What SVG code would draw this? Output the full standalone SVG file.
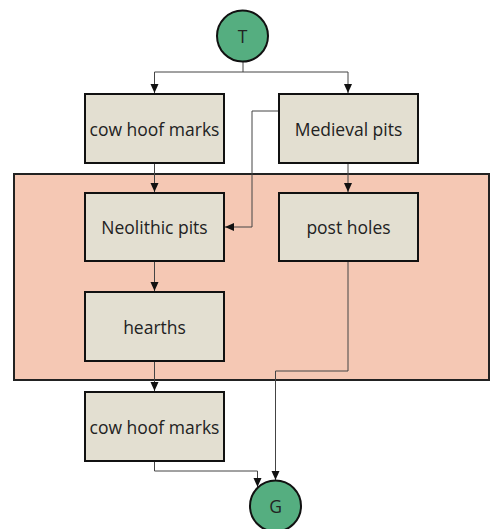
<svg xmlns="http://www.w3.org/2000/svg" width="491" height="529" viewBox="0 0 491 529">
<defs>
<marker id="arr" markerWidth="10" markerHeight="10" refX="9" refY="5" orient="auto" markerUnits="userSpaceOnUse">
<path d="M0,1 L9,5 L0,9 Z" fill="#111"/>
</marker>
<style>
.box{fill:#e3dfd1;stroke:#111;stroke-width:2}
.circ{fill:#55ae80;stroke:#111;stroke-width:2}
.lbl{font-family:"Open Sans","Noto Sans",sans-serif;font-size:17.5px;fill:#222;text-anchor:middle;dominant-baseline:central}
.edge{fill:none;stroke:#444;stroke-width:1}
</style>
</defs>
<rect width="491" height="529" fill="#ffffff"/>
<g id="cluster">
<rect x="14" y="174" width="475" height="206" fill="#f5c8b4" stroke="#222" stroke-width="2"/>
</g>
<g id="edges">
<path class="edge" d="M243,62 V72 H154.5 V93" marker-end="url(#arr)"/>
<path class="edge" d="M243,72 H348 V93" marker-end="url(#arr)"/>
<path class="edge" d="M154.5,163 V192" marker-end="url(#arr)"/>
<path class="edge" d="M279,111 H252 V227 H225" marker-end="url(#arr)"/>
<path class="edge" d="M348,163 V192" marker-end="url(#arr)"/>
<path class="edge" d="M154.5,261 V291" marker-end="url(#arr)"/>
<path class="edge" d="M154.5,361 V391" marker-end="url(#arr)"/>
<path class="edge" d="M348,261 V371 H275.5 V480" marker-end="url(#arr)"/>
<path class="edge" d="M154.5,461 V471 H257.5 V487" marker-end="url(#arr)"/>
</g>
<g id="T"><circle class="circ" cx="242.5" cy="36" r="25.5"/><text class="lbl" x="242.5" y="36">T</text></g>
<g id="cow1"><rect class="box" x="85" y="94" width="139" height="69"/><text class="lbl" x="154.5" y="128.5">cow hoof marks</text></g>
<g id="medieval"><rect class="box" x="279" y="94" width="139" height="69"/><text class="lbl" x="348.5" y="128.5">Medieval pits</text></g>
<g id="neolithic"><rect class="box" x="85" y="193" width="139" height="68"/><text class="lbl" x="154.5" y="227">Neolithic pits</text></g>
<g id="post"><rect class="box" x="279" y="193" width="139" height="68"/><text class="lbl" x="348.5" y="227">post holes</text></g>
<g id="hearths"><rect class="box" x="85" y="292" width="139" height="69"/><text class="lbl" x="154.5" y="326.5">hearths</text></g>
<g id="cow2"><rect class="box" x="85" y="392" width="139" height="69"/><text class="lbl" x="154.5" y="426.5">cow hoof marks</text></g>
<g id="G"><circle class="circ" cx="275.5" cy="506" r="25.5"/><text class="lbl" x="275.5" y="506">G</text></g>
</svg>
